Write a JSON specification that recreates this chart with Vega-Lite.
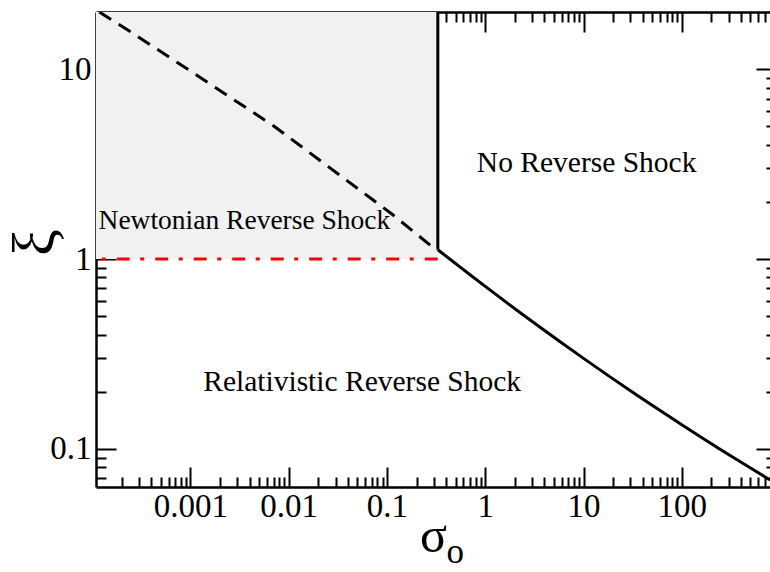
{
  "$schema": "https://vega.github.io/schema/vega-lite/v6.json",
  "width": 674,
  "height": 475,
  "autosize": {"type": "none"},
  "padding": {"left": 96, "top": 12, "right": 0, "bottom": 85},
  "background": "white",
  "config": {
    "view": {"stroke": null},
    "font": "Liberation Serif",
    "axis": {
      "grid": false,
      "labelFont": "Liberation Serif",
      "titleFont": "Liberation Serif",
      "labelColor": "black",
      "titleColor": "black",
      "domainColor": "black",
      "tickColor": "black",
      "domainWidth": 2.5,
      "tickWidth": 2,
      "labelFontSize": 33,
      "labelFontWeight": "normal",
      "titleFontWeight": "normal",
      "zindex": 1,
      "format": "~g"
    }
  },
  "datasets": {
    "region": [{"x1": 0.0001093, "x2": 0.329, "y1": 1, "y2": 20}],
    "redline": [{"x1": 0.0001093, "x2": 0.352, "y": 1}],
    "dashed": [
      {"x": 0.000118, "y": 20.0},
      {"x": 0.000258, "y": 15.47},
      {"x": 0.001053, "y": 9.6},
      {"x": 0.00715, "y": 4.99},
      {"x": 0.0717, "y": 2.051},
      {"x": 0.1146, "y": 1.711},
      {"x": 0.286, "y": 1.165},
      {"x": 0.329, "y": 1.119}
    ],
    "vertical": [{"x": 0.329, "y1": 1.119, "y2": 20}],
    "curve": [
      {"x": 0.329, "y": 1.119},
      {"x": 1, "y": 0.7174},
      {"x": 3.177, "y": 0.4587},
      {"x": 10, "y": 0.2997},
      {"x": 31.6, "y": 0.1988},
      {"x": 100, "y": 0.1342},
      {"x": 307.5, "y": 0.0926},
      {"x": 790, "y": 0.0686}
    ],
    "labels": [
      {"x": 10.75, "y": 2.856, "text": "No Reverse Shock"},
      {"x": 0.0559, "y": 0.201, "text": "Relativistic Reverse Shock"}
    ],
    "newton": [{"x": 0.00354, "y": 1.444, "text": "Newtonian Reverse Shock"}],
    "subscript": [{"x": 0.4035, "y": 0.0252, "text": "o"}]
  },
  "resolve": {"axis": {"x": "independent", "y": "independent"}},
  "layer": [
    {
      "data": {"name": "region"},
      "mark": {"type": "rect", "fill": "#f1f1f1", "stroke": null},
      "encoding": {
        "x": {"field": "x1", "type": "quantitative",
          "scale": {"type": "log", "domain": [0.0001093, 790], "nice": false},
          "axis": {"orient": "bottom", "values": [0.001, 0.01, 0.1, 1, 10, 100], "ticks": false, "tickSize": 0, "labelPadding": 3, "title": "σ", "titleFontSize": 50, "titleY": 24}},
        "x2": {"field": "x2"},
        "y": {"field": "y1", "type": "quantitative",
          "scale": {"type": "log", "domain": [0.063, 20], "nice": false},
          "axis": {"orient": "left", "values": [0.1, 1, 10], "ticks": false, "tickSize": 0, "labelPadding": 5, "title": "ξ", "titleFontSize": 60, "titleX": -30, "titleY": 230}},
        "y2": {"field": "y2"}
      }
    },
    {
      "data": {"name": "redline"},
      "mark": {"type": "rule", "color": "#ff0000", "strokeWidth": 3, "strokeDash": [13, 10.5, 4, 11], "strokeDashOffset": 17.8},
      "encoding": {
        "x": {"field": "x1", "type": "quantitative",
          "scale": {"type": "log", "domain": [0.0001093, 790], "nice": false},
          "axis": {"orient": "bottom", "values": [0.001, 0.01, 0.1, 1, 10, 100], "offset": -20, "tickSize": 20, "labels": false, "domain": false, "title": null}},
        "x2": {"field": "x2"},
        "y": {"field": "y", "type": "quantitative",
          "scale": {"type": "log", "domain": [0.063, 20], "nice": false},
          "axis": {"orient": "left", "values": [0.1, 1, 10], "offset": -20, "tickSize": 20, "labels": false, "domain": false, "title": null}}
      }
    },
    {
      "data": {"name": "dashed"},
      "mark": {"type": "line", "color": "black", "strokeWidth": 3, "strokeDash": [14, 9], "clip": true},
      "encoding": {
        "x": {"field": "x", "type": "quantitative",
          "scale": {"type": "log", "domain": [0.0001093, 790], "nice": false},
          "axis": {"orient": "bottom", "values": [0.0002, 0.0003, 0.0004, 0.0005, 0.0006, 0.0007, 0.0008, 0.0009, 0.002, 0.003, 0.004, 0.005, 0.006, 0.007, 0.008, 0.009, 0.02, 0.03, 0.04, 0.05, 0.06, 0.07, 0.08, 0.09, 0.2, 0.3, 0.4, 0.5, 0.6, 0.7, 0.8, 0.9, 2, 3, 4, 5, 6, 7, 8, 9, 20, 30, 40, 50, 60, 70, 80, 90, 200, 300, 400, 500, 600, 700], "offset": -10, "tickSize": 10, "labels": false, "domain": false, "title": null}},
        "y": {"field": "y", "type": "quantitative",
          "scale": {"type": "log", "domain": [0.063, 20], "nice": false},
          "axis": {"orient": "left", "values": [0.07, 0.08, 0.09, 0.2, 0.3, 0.4, 0.5, 0.6, 0.7, 0.8, 0.9, 2, 3, 4, 5, 6, 7, 8, 9], "offset": -10, "tickSize": 10, "labels": false, "domain": false, "title": null}}
      }
    },
    {
      "data": {"name": "vertical"},
      "mark": {"type": "rule", "color": "black", "strokeWidth": 3},
      "encoding": {
        "x": {"field": "x", "type": "quantitative",
          "scale": {"type": "log", "domain": [0.0001093, 790], "nice": false},
          "axis": {"orient": "top", "values": [0.001], "ticks": false, "labels": false, "domain": true, "title": null}},
        "y": {"field": "y1", "type": "quantitative",
          "scale": {"type": "log", "domain": [0.063, 20], "nice": false},
          "axis": {"orient": "right", "values": [0.1, 1, 10], "offset": -14, "tickSize": 14, "labels": false, "domain": false, "title": null}},
        "y2": {"field": "y2"}
      }
    },
    {
      "data": {"name": "curve"},
      "mark": {"type": "line", "color": "black", "strokeWidth": 3, "clip": true, "interpolate": "monotone"},
      "encoding": {
        "x": {"field": "x", "type": "quantitative",
          "scale": {"type": "log", "domain": [0.0001093, 790], "nice": false},
          "axis": {"orient": "top", "values": [0.001, 0.01, 0.1, 1, 10, 100], "offset": -20, "tickSize": 20, "labels": false, "domain": false, "title": null}},
        "y": {"field": "y", "type": "quantitative",
          "scale": {"type": "log", "domain": [0.063, 20], "nice": false},
          "axis": {"orient": "right", "values": [0.07, 0.08, 0.09, 0.2, 0.3, 0.4, 0.5, 0.6, 0.7, 0.8, 0.9, 2, 3, 4, 5, 6, 7, 8, 9], "offset": -4, "tickSize": 4, "labels": false, "domain": false, "title": null}}
      }
    },
    {
      "data": {"name": "labels"},
      "mark": {"type": "text", "font": "Liberation Serif", "fontSize": 29.5, "align": "center", "baseline": "alphabetic", "color": "black"},
      "encoding": {
        "x": {"field": "x", "type": "quantitative",
          "scale": {"type": "log", "domain": [0.0001093, 790], "nice": false},
          "axis": {"orient": "top", "values": [0.0002, 0.0003, 0.0004, 0.0005, 0.0006, 0.0007, 0.0008, 0.0009, 0.002, 0.003, 0.004, 0.005, 0.006, 0.007, 0.008, 0.009, 0.02, 0.03, 0.04, 0.05, 0.06, 0.07, 0.08, 0.09, 0.2, 0.3, 0.4, 0.5, 0.6, 0.7, 0.8, 0.9, 2, 3, 4, 5, 6, 7, 8, 9, 20, 30, 40, 50, 60, 70, 80, 90, 200, 300, 400, 500, 600, 700], "offset": -10, "tickSize": 10, "labels": false, "domain": false, "title": null}},
        "y": {"field": "y", "type": "quantitative", "scale": {"type": "log", "domain": [0.063, 20], "nice": false}, "axis": null},
        "text": {"field": "text"}
      }
    },
    {
      "data": {"name": "newton"},
      "mark": {"type": "text", "font": "Liberation Serif", "fontSize": 27.5, "align": "center", "baseline": "alphabetic", "color": "black"},
      "encoding": {
        "x": {"field": "x", "type": "quantitative", "scale": {"type": "log", "domain": [0.0001093, 790], "nice": false}, "axis": null},
        "y": {"field": "y", "type": "quantitative", "scale": {"type": "log", "domain": [0.063, 20], "nice": false}, "axis": null},
        "text": {"field": "text"}
      }
    },
    {
      "data": {"name": "subscript"},
      "mark": {"type": "text", "font": "Liberation Serif", "fontSize": 35, "align": "left", "baseline": "alphabetic", "color": "black", "clip": false},
      "encoding": {
        "x": {"field": "x", "type": "quantitative", "scale": {"type": "log", "domain": [0.0001093, 790], "nice": false}, "axis": null},
        "y": {"field": "y", "type": "quantitative", "scale": {"type": "log", "domain": [0.063, 20], "nice": false}, "axis": null},
        "text": {"field": "text"}
      }
    }
  ]
}
